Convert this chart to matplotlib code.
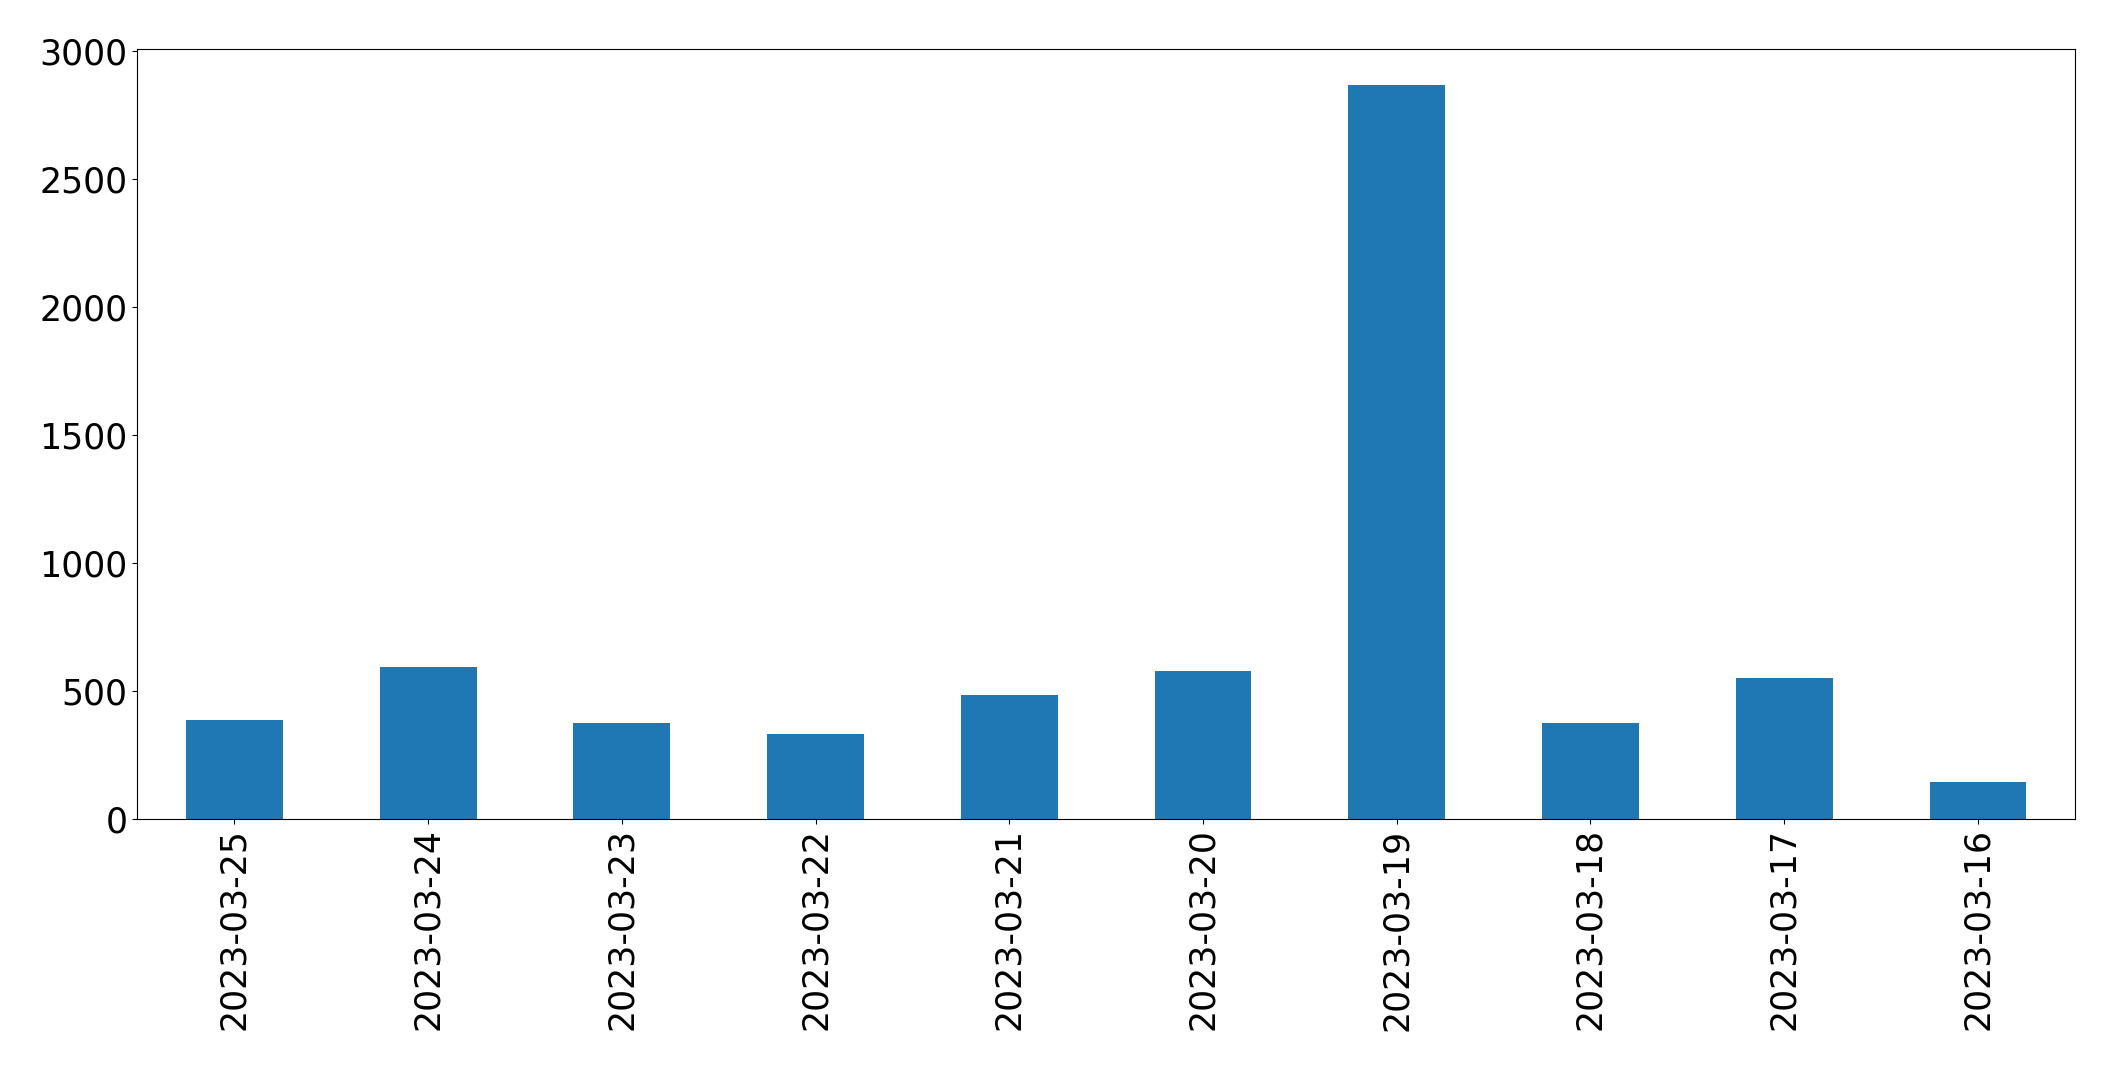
import matplotlib
matplotlib.use("Agg")
import matplotlib.pyplot as plt
import pandas as pd

##################################################
# Data
dates = ["2023-03-25", "2023-03-24", "2023-03-23", "2023-03-22", "2023-03-21",
         "2023-03-20", "2023-03-19", "2023-03-18", "2023-03-17", "2023-03-16"]
counts = [384, 591, 372, 329, 482, 575, 2865, 372, 548, 142]

series = pd.Series(counts, index=dates)

##################################################
# Plot
fig, ax = plt.subplots(figsize=(21.15, 10.7), dpi=100)
fig.subplots_adjust(left=0.065, right=0.981, top=0.9545, bottom=0.235)

series.plot(kind="bar", ax=ax, color="#1f77b4", width=0.5)

ax.set_yticks([0, 500, 1000, 1500, 2000, 2500, 3000])
ax.tick_params(axis="both", labelsize=25)
ax.tick_params(axis="x", rotation=90)

fig.savefig("out.png", dpi=100)
